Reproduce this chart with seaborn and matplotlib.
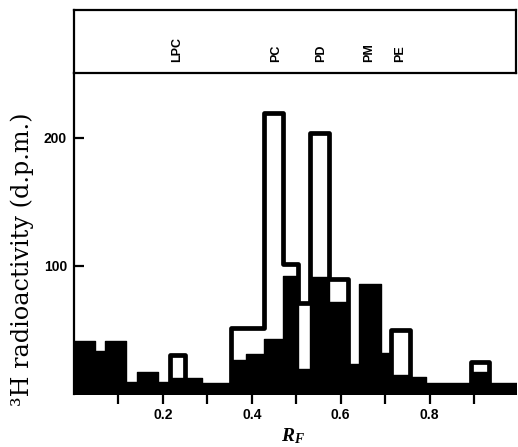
import matplotlib
matplotlib.use("Agg")
import matplotlib.pyplot as plt
import seaborn as sns

# ---------------- data ----------------
# filled (black) histogram: bin edges along R_F and 3H radioactivity (d.p.m.)
black_edges = [0.0, 0.047, 0.069, 0.118, 0.141, 0.190, 0.215, 0.287, 0.354,
               0.386, 0.427, 0.471, 0.503, 0.532, 0.573, 0.616, 0.641, 0.690,
               0.714, 0.756, 0.792, 0.893, 0.933, 1.0]
black_values = [41, 33, 41, 9, 17, 9, 12, 8, 26, 31, 43, 92, 19, 91, 72, 23,
                86, 32, 15, 13, 8, 17, 8]

# open histogram (outlined bars)
open_edges = [0.215, 0.250, 0.354, 0.427, 0.471, 0.503, 0.532, 0.573, 0.616,
              0.714, 0.756, 0.893, 0.933]
open_values = [30, 0, 51, 219, 101, 71, 204, 90, 0, 50, 0, 25]

lipid_labels = ["LPC", "PC", "PD", "PM", "PE"]
lipid_rf = [0.232, 0.455, 0.556, 0.663, 0.734]

x_ticks = [0.1, 0.2, 0.3, 0.4, 0.5, 0.6, 0.7, 0.8, 0.9]
x_ticklabels = ["", "0.2", "", "0.4", "", "0.6", "", "0.8", ""]
y_ticks = [100, 200]
y_ticklabels = ["100", "200"]

# ---------------- style ----------------
sns.set_theme(style="white")
plt.rcParams["font.family"] = ["Liberation Sans", "DejaVu Sans"]
plt.rcParams["mathtext.fontset"] = "custom"
plt.rcParams["mathtext.it"] = "Liberation Serif:italic:bold"
plt.rcParams["mathtext.rm"] = "Liberation Serif:bold"

W, H = 518, 447
fig = plt.figure(figsize=(W / 100, H / 100), dpi=100)
fig.patch.set_facecolor("white")

left_px, right_px = 74.0, 516.0
bottom_px, top_px, head_top_px = 393.7, 73.0, 10.0
ax = fig.add_axes([left_px / W, (H - bottom_px) / H,
                   (right_px - left_px) / W, (bottom_px - top_px) / H])
axh = fig.add_axes([left_px / W, (H - top_px) / H,
                    (right_px - left_px) / W, (top_px - head_top_px) / H])


def mids(edges):
    return [(a + b) / 2 for a, b in zip(edges[:-1], edges[1:])]


# open bars first (white fill, thick black outline)
sns.histplot(x=mids(open_edges), weights=open_values, bins=open_edges,
             element="step", fill=True, facecolor="white", edgecolor="black",
             linewidth=3.4, alpha=1, ax=ax, zorder=2)
# filled bars on top
sns.histplot(x=mids(black_edges), weights=black_values, bins=black_edges,
             element="step", fill=True, color="black", edgecolor="black",
             linewidth=1.0, alpha=1, ax=ax, zorder=3)

ax.set_xlim(0, (right_px - left_px) / 444.5)
ax.set_ylim(0, (bottom_px - top_px) / 1.28)
ax.set_facecolor("white")

for s in ["top", "right", "bottom"]:
    ax.spines[s].set_visible(False)
ax.spines["left"].set_linewidth(1.6)
ax.spines["left"].set_color("black")

ax.set_xticks(x_ticks, labels=x_ticklabels)
ax.set_yticks(y_ticks, labels=y_ticklabels)
ax.tick_params(axis="x", bottom=True, direction="out", length=7, width=1.6,
               pad=3, labelsize=10, colors="black")
ax.tick_params(axis="y", left=True, direction="in", length=7, width=1.6,
               pad=5, labelsize=10, colors="black")
for lab in ax.get_xticklabels() + ax.get_yticklabels():
    lab.set_fontweight("bold")

ax.set_ylabel("³H radioactivity (d.p.m.)", family=["DejaVu Serif"],
              fontsize=17.2, color="black")
ax.yaxis.set_label_coords((34 - left_px) / (right_px - left_px),
                          (bottom_px - 259) / (bottom_px - top_px))
ax.set_xlabel(r"$R_F$", fontsize=14, color="black")
ax.xaxis.set_label_coords((293 - left_px) / (right_px - left_px),
                          (bottom_px - 426) / (bottom_px - top_px))

# header strip with lipid labels
axh.set_xlim(ax.get_xlim())
axh.set_ylim(0, 1)
axh.set_xticks([])
axh.set_yticks([])
axh.set_facecolor("white")
for s in axh.spines.values():
    s.set_visible(True)
    s.set_linewidth(1.6)
    s.set_color("black")
for lab, rf in zip(lipid_labels, lipid_rf):
    axh.text(rf, 0.17, lab, rotation=90, ha="center", va="bottom",
             fontsize=9, fontweight="bold", color="black")

fig.savefig("out.png", dpi=100, facecolor="white")
